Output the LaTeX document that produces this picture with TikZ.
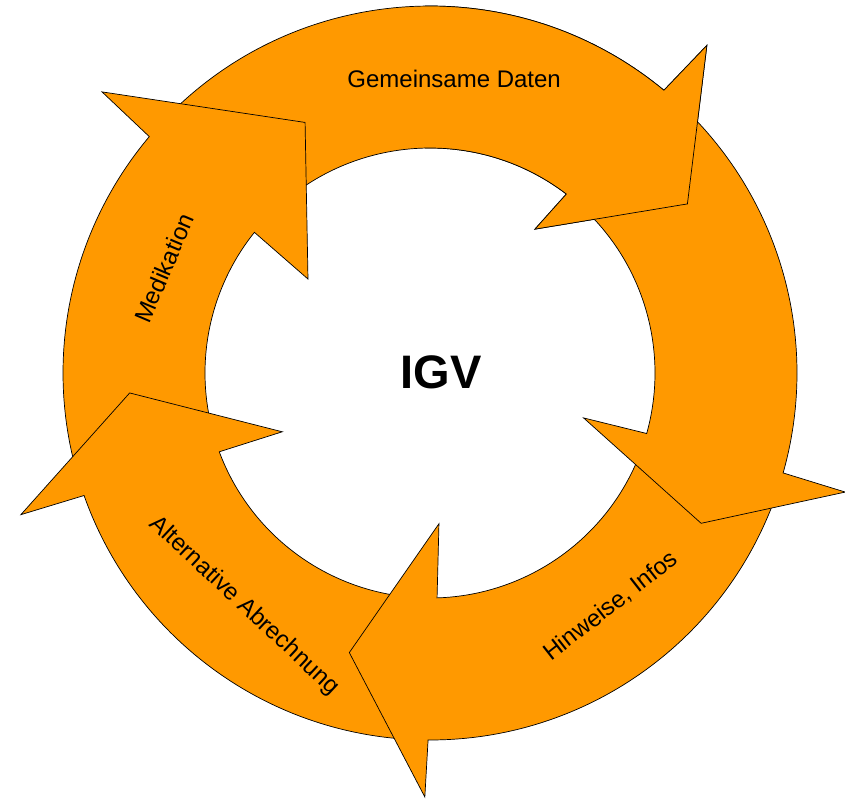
\documentclass[tikz,border=0pt]{standalone}
\usepackage{fontspec}
\setmainfont{Liberation Sans}
\definecolor{igvorange}{RGB}{255,153,0}
\tikzset{
  ringarrow/.style={fill=igvorange,draw=black,line width=0.7pt},
  arrowlabel/.style={font=\fontsize{24}{28}\selectfont}
}

\begin{document}
\begin{tikzpicture}[x=1pt,y=1pt]
\useasboundingbox (0,0) rectangle (845,-798);
\begin{scope}[shift={(430,-373)}]
% Gemeinsame Daten, its tail goes under the Medikation head
\draw[ringarrow] (138:367) arc[start angle=138,end angle=50.4,radius=367] -- (49.8:429) -- (33.3:308) -- (53.9:178) -- (52.7:225) arc[start angle=52.7,end angle=138,radius=225] -- cycle;
% Medikation
\draw[ringarrow] (-165:367) arc[start angle=-165,end angle=-220.1,radius=367] -- (-220.6:432) -- (-243.5:280) -- (-217.6:154) -- (-218.7:225) arc[start angle=-218.7,end angle=-165,radius=225] -- cycle;
% Alternative Abrechnung
\draw[ringarrow] (-93:367) arc[start angle=-93,end angle=-160.5,radius=367] -- (-160.9:433) -- (-176.2:301) -- (-158.3:159) -- (-159.5:225) arc[start angle=-159.5,end angle=-93,radius=225] -- cycle;
% Hinweise, Infos
\draw[ringarrow] (-20:367) arc[start angle=-20,end angle=-90.3,radius=367] -- (-90.7:424) -- (-106.1:291) -- (-86.6:151) -- (-88.2:225) arc[start angle=-88.2,end angle=-20,radius=225] -- cycle;
% right arrow
\draw[ringarrow] (46:367) arc[start angle=46,end angle=-15.8,radius=367] -- (-16:432) -- (-29:310) -- (-16.3:160) -- (-15.6:225) arc[start angle=-15.6,end angle=46,radius=225] -- cycle;
% head of the top arrow once more, over the right arrow
\begin{scope}
\clip (-5,100) rectangle (440,460);
\draw[ringarrow] (138:367) arc[start angle=138,end angle=50.4,radius=367] -- (49.8:429) -- (33.3:308) -- (53.9:178) -- (52.7:225) arc[start angle=52.7,end angle=138,radius=225] -- cycle;
\end{scope}

\node[arrowlabel] (daten) at (85.3:295) {Gemeinsame Daten};
\node[arrowlabel,rotate=67] (medikation) at (158.5:286) {Medikation};
\node[arrowlabel,rotate=-43] (abrechnung) at (-128.6:298) {Alternative Abrechnung};
\node[arrowlabel,rotate=38] (hinweise) at (-52.2:295) {Hinweise, Infos};
\node[font=\bfseries\fontsize{47}{50}\selectfont] (igv) at (11,1) {IGV};
\end{scope}
\end{tikzpicture}
\end{document}
